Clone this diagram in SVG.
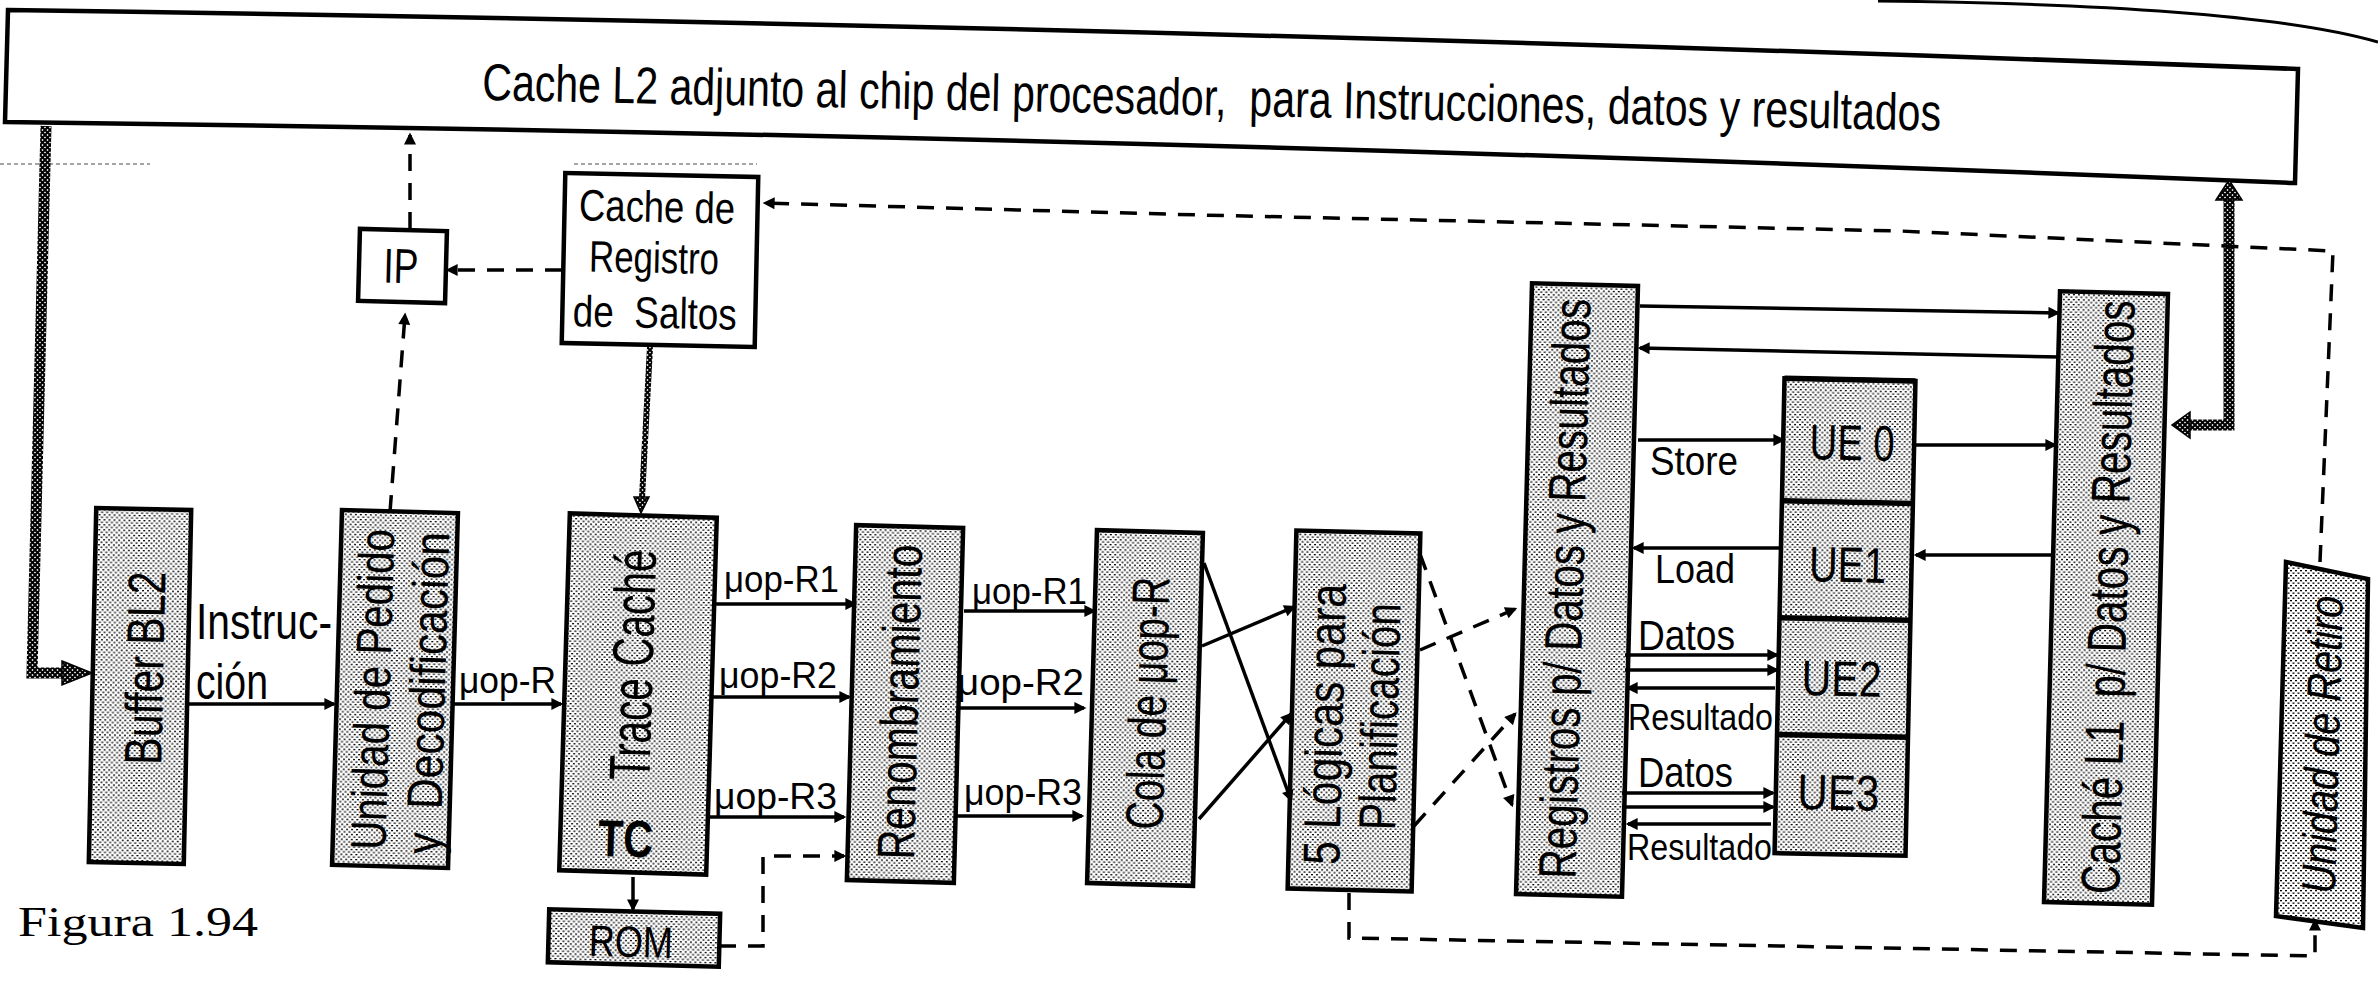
<svg xmlns="http://www.w3.org/2000/svg" width="2378" height="1004" viewBox="0 0 2378 1004">
<style>
.t{font-family:"Liberation Sans",Arial,sans-serif;fill:#000}
.s{font-family:"Liberation Serif","Times New Roman",serif;fill:#000}
.box{fill:url(#stip);stroke:#000;stroke-width:4.5}
.wbox{fill:#fff;stroke:#000;stroke-width:4.5}
.ln{fill:none;stroke:#000;stroke-width:3.5;marker-end:url(#ah)}
.dl{fill:none;stroke:#000;stroke-width:3.5;stroke-dasharray:17 12;marker-end:url(#ah)}
.hl{fill:none;stroke:url(#hp);stroke-width:11}
.ha{fill:url(#hp);stroke:#000;stroke-width:1.5}
</style>
<defs>
<pattern id="stip" width="5" height="5" patternUnits="userSpaceOnUse"><rect width="5" height="5" fill="#fff"/><rect width="2" height="1.3" fill="#000"/><rect x="2.5" y="2.5" width="2" height="1.3" fill="#000"/></pattern>
<pattern id="hp" width="5" height="5" patternUnits="userSpaceOnUse"><rect width="5" height="5" fill="#fff"/><path d="M0,0 L5,5 M5,0 L0,5" stroke="#000" stroke-width="2"/></pattern>
<marker id="ah" viewBox="0 0 10 10" refX="8" refY="5" markerWidth="16" markerHeight="12" markerUnits="userSpaceOnUse" orient="auto"><path d="M0,0 L10,5 L0,10 z" fill="#000"/></marker>
</defs>
<rect width="2378" height="1004" fill="#fff"/>

<g id="page-curl"><path d="M1878,1 Q2250,5 2378,42" fill="none" stroke="#000" stroke-width="3"/></g>
<g id="artifacts" stroke="#888" stroke-width="1.5" stroke-dasharray="4 3"><path d="M0,164 L150,164 M574,164 L757,164"/></g>

<g id="cache-l2">
<path class="wbox" d="M8,10 Q1153,26 2298,69 L2295,183 Q1150,136 5,122 Z"/>
<text class="t" x="482" y="100" transform="rotate(1.2 482 100)" font-size="52" textLength="1459" lengthAdjust="spacingAndGlyphs" xml:space="preserve">Cache L2 adjunto al chip del procesador,  para Instrucciones, datos y resultados</text>
</g>

<g id="ip" transform="rotate(1.5 402 266)">
<rect class="wbox" x="359" y="230" width="87" height="72"/>
<text class="t" x="401" y="283" font-size="49" text-anchor="middle" textLength="35" lengthAdjust="spacingAndGlyphs">IP</text>
</g>

<g id="cache-registro-saltos" transform="rotate(1.2 660 260)">
<rect class="wbox" x="563.5" y="175" width="193" height="170"/>
<text class="t" x="656" y="222" font-size="44" text-anchor="middle" textLength="156" lengthAdjust="spacingAndGlyphs">Cache de</text>
<text class="t" x="654" y="273" font-size="44" text-anchor="middle" textLength="130" lengthAdjust="spacingAndGlyphs">Registro</text>
<text class="t" x="656" y="328" font-size="44" text-anchor="middle" textLength="164" lengthAdjust="spacingAndGlyphs" xml:space="preserve">de  Saltos</text>
</g>

<g id="buffer-bl2" transform="rotate(1.2 140 686)">
<rect class="box" x="92.5" y="509" width="95" height="354"/>
<text class="t" transform="translate(163 668) rotate(-90)" font-size="53" text-anchor="middle" textLength="193" lengthAdjust="spacingAndGlyphs">Buffer BL2</text>
</g>

<g id="unidad-pedido" transform="rotate(1.6 395 689)">
<rect class="box" x="337" y="511.5" width="116" height="355"/>
<text class="t" transform="translate(390 690) rotate(-90)" font-size="50" text-anchor="middle" textLength="321" lengthAdjust="spacingAndGlyphs">Unidad de Pedido</text>
<text class="t" transform="translate(445 692) rotate(-90)" font-size="50" text-anchor="middle" textLength="322" lengthAdjust="spacingAndGlyphs" xml:space="preserve">y  Decodificación</text>
</g>

<g id="trace-cache" transform="rotate(1.7 638 694)">
<rect class="box" x="564.5" y="515.5" width="147" height="357" stroke-width="6.5"/>
<text class="t" transform="translate(652 665) rotate(-90)" font-size="58" text-anchor="middle" textLength="231" lengthAdjust="spacingAndGlyphs">Trace Caché</text>
<text class="t" x="630" y="857" font-size="52" font-weight="bold" text-anchor="middle" textLength="55" lengthAdjust="spacingAndGlyphs">TC</text>
</g>

<g id="rom" transform="rotate(1.5 634 938)">
<rect class="box" x="548.5" y="911.5" width="171" height="53"/>
<text class="t" x="631" y="957" font-size="44" text-anchor="middle" textLength="84" lengthAdjust="spacingAndGlyphs">ROM</text>
</g>

<g id="renombramiento" transform="rotate(1.5 905 704)">
<rect class="box" x="851.5" y="526.5" width="107" height="355"/>
<text class="t" transform="translate(918 702) rotate(-90)" font-size="53" text-anchor="middle" textLength="315" lengthAdjust="spacingAndGlyphs">Renombramiento</text>
</g>

<g id="cola-uop" transform="rotate(1.6 1145 708)">
<rect class="box" x="1092" y="531.5" width="106" height="353"/>
<text class="t" transform="translate(1166 703) rotate(-90)" font-size="53" text-anchor="middle" textLength="253" lengthAdjust="spacingAndGlyphs">Cola de μop-R</text>
</g>

<g id="logicas-planificacion" transform="rotate(1.4 1354 711)">
<rect class="box" x="1292" y="532" width="124" height="358"/>
<text class="t" transform="translate(1343 725) rotate(-90)" font-size="52" text-anchor="middle" textLength="281" lengthAdjust="spacingAndGlyphs">5 Lógicas para</text>
<text class="t" transform="translate(1398 716) rotate(-90)" font-size="52" text-anchor="middle" textLength="227" lengthAdjust="spacingAndGlyphs">Planificación</text>
</g>

<g id="registros" transform="rotate(1.5 1577 590)">
<rect class="box" x="1524" y="284.5" width="106" height="611"/>
<text class="t" transform="translate(1583 589) rotate(-90)" font-size="53" text-anchor="middle" textLength="580" lengthAdjust="spacingAndGlyphs">Registros p/ Datos y Resultados</text>
</g>

<g id="ue" transform="rotate(1.2 1845 617)">
<rect class="box" x="1779.5" y="379.5" width="131" height="475"/>
<path d="M1779.5,379.5 H1910.5 M1779.5,502 H1910.5 M1779.5,619 H1910.5 M1779.5,736 H1910.5" stroke="#000" stroke-width="5.5"/>
<text class="t" x="1806" y="460" font-size="50" textLength="85" lengthAdjust="spacingAndGlyphs">UE 0</text>
<text class="t" x="1808" y="582" font-size="50" textLength="77" lengthAdjust="spacingAndGlyphs">UE1</text>
<text class="t" x="1803" y="696" font-size="50" textLength="80" lengthAdjust="spacingAndGlyphs">UE2</text>
<text class="t" x="1801" y="810" font-size="50" textLength="82" lengthAdjust="spacingAndGlyphs">UE3</text>
</g>

<g id="cache-l1" transform="rotate(1.5 2106 598)">
<rect class="box" x="2052" y="292.5" width="108" height="611"/>
<text class="t" transform="translate(2127 597) rotate(-90)" font-size="55" text-anchor="middle" textLength="594" lengthAdjust="spacingAndGlyphs" xml:space="preserve">Caché L1  p/ Datos y Resultados</text>
</g>

<g id="unidad-retiro">
<polygon class="box" points="2286,562 2368,579 2363,928 2276,916"/>
<text class="t" transform="translate(2339 745) rotate(-88.5)" font-size="48" font-style="italic" text-anchor="middle" textLength="298" lengthAdjust="spacingAndGlyphs">Unidad de Retiro</text>
</g>

<g id="figura"><text class="s" x="18" y="936" font-size="42" textLength="240" lengthAdjust="spacingAndGlyphs">Figura 1.94</text></g>

<g id="connectors">
<path class="hl" d="M46,126 L32,673 L64,673"/>
<polygon class="ha" points="62,661 92,673 62,685"/>
<path class="hl" d="M2229,200 L2229,425 L2190,425"/>
<polygon class="ha" points="2216,200 2229,180 2242,200"/>
<polygon class="ha" points="2190,412 2172,425 2190,438"/>
<path d="M650,347 L642,498" fill="none" stroke="url(#hp)" stroke-width="6"/>
<polygon class="ha" points="634,497 641,513 649,497"/>

<path class="ln" d="M189,704 L334,704"/>
<path class="ln" d="M452,704 L561,704"/>
<path class="ln" d="M633,877 L633,909"/>
<path class="ln" d="M714,604 L855,604"/>
<path class="ln" d="M712,697 L849,697"/>
<path class="ln" d="M709,817 L844,817"/>
<path class="ln" d="M964,611 L1094,611"/>
<path class="ln" d="M957,708 L1084,708"/>
<path class="ln" d="M954,816 L1082,816"/>
<path class="ln" d="M1204,563 L1291,800"/>
<path class="ln" d="M1202,646 L1294,607"/>
<path class="ln" d="M1199,819 L1291,714"/>
<path class="ln" d="M1640,306 L2058,313"/>
<path class="ln" d="M2060,357 L1640,348"/>
<path class="ln" d="M1638,440 L1783,440"/>
<path class="ln" d="M1781,548 L1634,548"/>
<path class="ln" d="M1625,655 L1777,655"/>
<path class="ln" d="M1625,670 L1777,670"/>
<path class="ln" d="M1775,688 L1628,688"/>
<path class="ln" d="M1622,793 L1773,793"/>
<path class="ln" d="M1622,807 L1773,807"/>
<path class="ln" d="M1771,824 L1628,824"/>
<path class="ln" d="M1916,445 L2055,445"/>
<path class="ln" d="M2052,555 L1916,555"/>

<path class="dl" d="M1420,554 L1512,805"/>
<path class="dl" d="M1420,650 L1515,609"/>
<path class="dl" d="M1414,826 L1515,714"/>
<path class="dl" d="M719,946 L763,946 L763,856 L844,856"/>
<path class="dl" d="M390,512 L405,315"/>
<path class="dl" d="M410,229 L410,135"/>
<path class="dl" d="M562,270 L448,270"/>
<path class="dl" d="M2320,562 L2333,251 L1900,231 L1200,215 L765,203"/>
<path class="dl" d="M1349,893 L1349,938 L2315,956 L2315,921"/>

<text class="t" x="196" y="639" font-size="50" textLength="136" lengthAdjust="spacingAndGlyphs">Instruc-</text>
<text class="t" x="196" y="699" font-size="50" textLength="72" lengthAdjust="spacingAndGlyphs">ción</text>
<text class="t" x="459" y="693" font-size="36" textLength="97" lengthAdjust="spacingAndGlyphs">μop-R</text>
<text class="t" x="724" y="592" font-size="36" textLength="115" lengthAdjust="spacingAndGlyphs">μop-R1</text>
<text class="t" x="719" y="688" font-size="36" textLength="118" lengthAdjust="spacingAndGlyphs">μop-R2</text>
<text class="t" x="714" y="809" font-size="36" textLength="123" lengthAdjust="spacingAndGlyphs">μop-R3</text>
<text class="t" x="972" y="604" font-size="36" textLength="115" lengthAdjust="spacingAndGlyphs">μop-R1</text>
<text class="t" x="957" y="695" font-size="36" textLength="127" lengthAdjust="spacingAndGlyphs">μop-R2</text>
<text class="t" x="964" y="805" font-size="36" textLength="118" lengthAdjust="spacingAndGlyphs">μop-R3</text>
<text class="t" x="1650" y="475" font-size="40" textLength="88" lengthAdjust="spacingAndGlyphs">Store</text>
<text class="t" x="1655" y="583" font-size="40" textLength="80" lengthAdjust="spacingAndGlyphs">Load</text>
<text class="t" x="1638" y="650" font-size="42" textLength="97" lengthAdjust="spacingAndGlyphs">Datos</text>
<text class="t" x="1628" y="730" font-size="36" textLength="145" lengthAdjust="spacingAndGlyphs">Resultado</text>
<text class="t" x="1638" y="787" font-size="42" textLength="95" lengthAdjust="spacingAndGlyphs">Datos</text>
<text class="t" x="1627" y="860" font-size="36" textLength="145" lengthAdjust="spacingAndGlyphs">Resultado</text>
</g>
</svg>
